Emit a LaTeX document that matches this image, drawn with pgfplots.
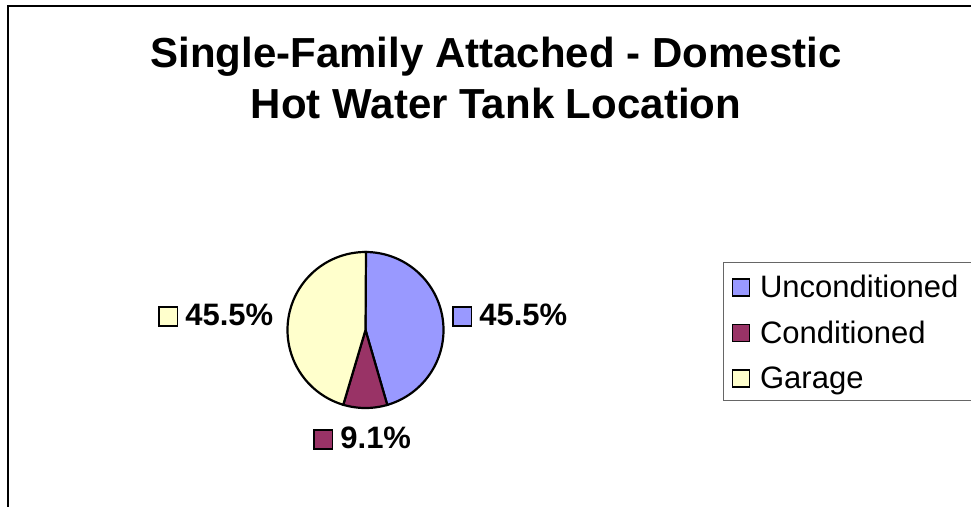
\documentclass[border=0pt]{standalone}
\usepackage{fontspec}
\setmainfont{Liberation Sans}
\usepackage{pgfplots}
\usepackage{pgfplotstable}
\pgfplotsset{compat=1.18}

\definecolor{uncond}{HTML}{9999FF}
\definecolor{cond}{HTML}{993366}
\definecolor{garage}{HTML}{FFFFCC}

\pgfplotstableread{
name value
Unconditioned 45.5
Conditioned 9.1
Garage 45.5
}\pietable

\newcommand\keybox[1]{{\setlength\fboxrule{1.6pt}\setlength\fboxsep{0pt}\fcolorbox{black}{#1}{\phantom{\rule{17pt}{17pt}}}}}
\newcommand\pct[1]{\pgfmathprintnumber[fixed,precision=1,fixed zerofill,assume math mode=true]{#1}\%}

\begin{document}
\begin{tikzpicture}
\pgfplotstablegetelem{0}{value}\of\pietable \let\vA\pgfplotsretval
\pgfplotstablegetelem{1}{value}\of\pietable \let\vB\pgfplotsretval
\pgfplotstablegetelem{2}{value}\of\pietable \let\vC\pgfplotsretval
\pgfmathsetmacro\aZ{90}
\pgfmathsetmacro\aA{90-3.6*\vA}
\pgfmathsetmacro\aB{\aA-3.6*\vB}
\pgfmathsetmacro\aC{\aB-3.6*\vC}
\def\cx{365.5}\def\cy{330}\def\rr{78}
\begin{axis}[
  hide axis, scale only axis, width=971pt, height=506pt,
  xmin=0, xmax=971, ymin=0, ymax=506, y dir=reverse,
  legend style={at={(axis cs:723,262)}, anchor=north west, draw=none, fill=none, line width=1pt,
    font=\fontsize{31}{37}\selectfont, inner xsep=8pt, inner ysep=4pt,
    nodes={inner sep=0pt, text height=31pt, text depth=8pt}, row sep=6.5pt, column sep=10pt},
  legend cell align=left,
  legend image code/.code={\draw[#1, draw=black, line width=1.6pt] (0pt,-10pt) rectangle (17pt,7pt);},
]
\draw[line width=2pt] (axis cs:8,6) rectangle (axis cs:1200,700);
\draw[black!60, line width=1pt, fill=white] (axis cs:723,262) rectangle (axis cs:1200,400);
\addplot[fill=uncond, draw=black, line width=2.2pt, domain=\aA:\aZ, samples=120, variable=\t]
  ({\cx+\rr*cos(\t)}, {\cy-\rr*sin(\t)}) -- (axis cs:\cx,\cy) -- cycle;
\addlegendentry{Unconditioned}
\addplot[fill=cond, draw=black, line width=2.2pt, domain=\aB:\aA, samples=30, variable=\t]
  ({\cx+\rr*cos(\t)}, {\cy-\rr*sin(\t)}) -- (axis cs:\cx,\cy) -- cycle;
\addlegendentry{Conditioned}
\addplot[fill=garage, draw=black, line width=2.2pt, domain=\aC:\aB, samples=120, variable=\t]
  ({\cx+\rr*cos(\t)}, {\cy-\rr*sin(\t)}) -- (axis cs:\cx,\cy) -- cycle;
\addlegendentry{Garage}
\node[anchor=base, inner sep=0pt, font=\fontsize{42}{50}\selectfont\bfseries] at (axis cs:496,67) {Single-Family Attached - Domestic};
\node[anchor=base, inner sep=0pt, font=\fontsize{42}{50}\selectfont\bfseries] at (axis cs:496,118) {Hot Water Tank Location};
\node[anchor=base west, inner sep=0pt, font=\fontsize{31}{37}\selectfont\bfseries] at (axis cs:452,325) {\keybox{uncond}\hspace{7pt}\pct{\vA}};
\node[anchor=base west, inner sep=0pt, font=\fontsize{31}{37}\selectfont\bfseries] at (axis cs:313,448) {\keybox{cond}\hspace{7pt}\pct{\vB}};
\node[anchor=base west, inner sep=0pt, font=\fontsize{31}{37}\selectfont\bfseries] at (axis cs:158,325) {\keybox{garage}\hspace{7pt}\pct{\vC}};
\end{axis}
\pgfresetboundingbox
\useasboundingbox (0,0) rectangle (971pt,506pt);
\end{tikzpicture}
\end{document}
